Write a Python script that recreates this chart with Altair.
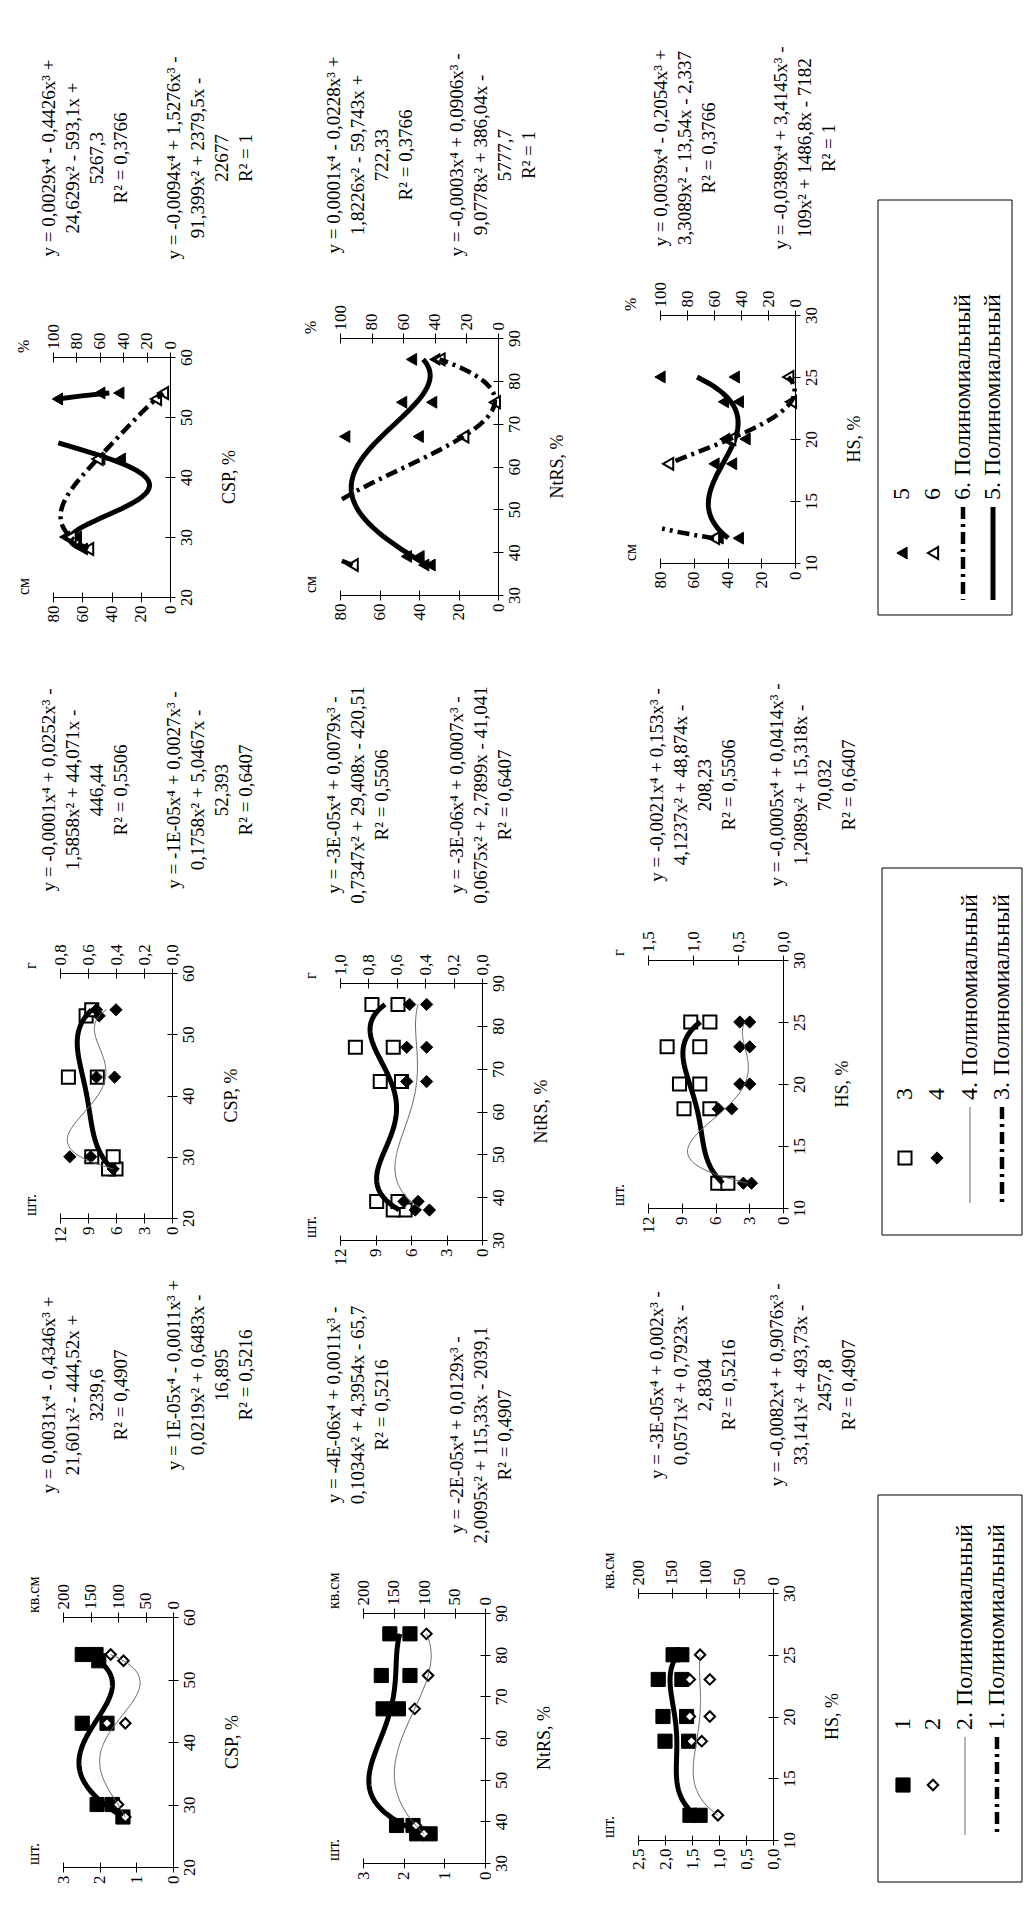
import altair as alt
import pandas as pd

W, H, M = 1016, 1894, 8
SERIF = "Liberation Serif"

# ---------------- data ----------------
# CSP row
csp_kv_x1 = [28, 30, 30, 43, 43, 53, 54, 54]
csp_kv_y1 = [91, 138, 110, 165, 120, 135, 165, 140]
csp_kv_x2 = [28, 30, 43, 43, 53, 54]
csp_kv_y2 = [1.3, 1.5, 1.3, 1.8, 1.35, 1.7]
csp_g_x3 = [28, 28, 30, 30, 43, 43, 53, 54]
csp_g_y3 = [6.0, 6.8, 6.3, 8.6, 11.1, 8.0, 9.2, 8.6]
csp_g_x4 = [28, 30, 30, 43, 43, 53, 54, 54]
csp_g_y4 = [0.42, 0.73, 0.58, 0.54, 0.41, 0.52, 0.54, 0.40]
csp_cm_x5 = [28, 30, 30, 43, 43, 53, 54, 54]
csp_cm_y5 = [60, 72, 64, 48, 34, 77, 48, 35]
csp_cm_x6 = [28, 30, 43, 53, 54]
csp_cm_y6 = [70, 85, 62, 12, 6]
# NtRS row
ntrs_kv_x1 = [37, 37, 39, 39, 67, 67, 75, 75, 85, 85]
ntrs_kv_y1 = [90, 112, 145, 118, 167, 142, 170, 123, 156, 123]
ntrs_kv_x2 = [37, 39, 67, 75, 85]
ntrs_kv_y2 = [1.5, 1.7, 1.73, 1.40, 1.44]
ntrs_g_x3 = [37, 37, 39, 39, 67, 67, 75, 75, 85, 85]
ntrs_g_y3 = [6.5, 7.5, 8.9, 7.1, 8.6, 6.8, 10.7, 7.5, 9.3, 7.1]
ntrs_g_x4 = [37, 37, 39, 39, 67, 67, 75, 75, 85, 85]
ntrs_g_y4 = [0.37, 0.47, 0.55, 0.45, 0.53, 0.39, 0.53, 0.39, 0.51, 0.39]
ntrs_cm_x5 = [37, 37, 39, 39, 67, 67, 75, 75, 85, 85]
ntrs_cm_y5 = [34.4, 37.6, 46.4, 40.0, 77.6, 40.4, 48.8, 33.6, 43.8, 32.0]
ntrs_cm_x6 = [37, 39, 67, 75, 85]
ntrs_cm_y6 = [92, 105, 22, 2, 37]
# HS row
hs_kv_x1 = [12, 12, 18, 18, 20, 20, 23, 23, 25, 25]
hs_kv_y1 = [123, 108, 160, 125, 163, 128, 170, 135, 148, 135]
hs_kv_x2 = [12, 18, 18, 20, 20, 23, 23, 25]
hs_kv_y2 = [1.02, 1.51, 1.32, 1.54, 1.17, 1.54, 1.17, 1.35]
hs_g_x3 = [12, 12, 18, 18, 20, 20, 23, 23, 25, 25]
hs_g_y3 = [5.8, 4.9, 8.8, 6.5, 9.2, 7.4, 10.3, 7.4, 8.2, 6.5]
hs_g_x4 = [12, 12, 18, 18, 20, 20, 23, 23, 25, 25]
hs_g_y4 = [0.44, 0.35, 0.72, 0.57, 0.48, 0.37, 0.48, 0.37, 0.48, 0.37]
hs_cm_x5 = [12, 12, 18, 18, 20, 20, 23, 23, 25, 25]
hs_cm_y5 = [45.6, 33.6, 48, 37.6, 41.6, 29.6, 42.4, 33.6, 80, 36]
hs_cm_x6 = [12, 18, 20, 23, 25]
hs_cm_y6 = [60, 94, 48, 3, 5]

# tick labels
csp_ticks = [20, 30, 40, 50, 60]
ntrs_ticks = [30, 40, 50, 60, 70, 80, 90]
hs_ticks = [10, 15, 20, 25, 30]
sht3_ticks = [0, 1, 2, 3]
sht25_ticks = [0, 0.5, 1, 1.5, 2, 2.5]
kv_ticks = [0, 50, 100, 150, 200]
sht12_ticks = [0, 3, 6, 9, 12]
g08_ticks = [0, 0.2, 0.4, 0.6, 0.8]
g1_ticks = [0, 0.2, 0.4, 0.6, 0.8, 1]
g15_ticks = [0, 0.5, 1, 1.5]
cm_ticks = [0, 20, 40, 60, 80]
pct_ticks = [0, 20, 40, 60, 80, 100]

eqs = {
    "A1": ["y = 0,0031x⁴ - 0,4346x³ +\n21,601x² - 444,52x +\n3239,6\nR² = 0,4907",
           "y = 1E-05x⁴ - 0,0011x³ +\n0,0219x² + 0,6483x -\n16,895\nR² = 0,5216"],
    "A2": ["y = -0,0001x⁴ + 0,0252x³ -\n1,5858x² + 44,071x -\n446,44\nR² = 0,5506",
           "y = -1E-05x⁴ + 0,0027x³ -\n0,1758x² + 5,0467x -\n52,393\nR² = 0,6407"],
    "A3": ["y = 0,0029x⁴ - 0,4426x³ +\n24,629x² - 593,1x +\n5267,3\nR² = 0,3766",
           "y = -0,0094x⁴ + 1,5276x³ -\n91,399x² + 2379,5x -\n22677\nR² = 1"],
    "B1": ["y = -4E-06x⁴ + 0,0011x³ -\n0,1034x² + 4,3954x - 65,7\nR² = 0,5216",
           "y = -2E-05x⁴ + 0,0129x³ -\n2,0095x² + 115,33x - 2039,1\nR² = 0,4907"],
    "B2": ["y = -3E-05x⁴ + 0,0079x³ -\n0,7347x² + 29,408x - 420,51\nR² = 0,5506",
           "y = -3E-06x⁴ + 0,0007x³ -\n0,0675x² + 2,7899x - 41,041\nR² = 0,6407"],
    "B3": ["y = 0,0001x⁴ - 0,0228x³ +\n1,8226x² - 59,743x +\n722,33\nR² = 0,3766",
           "y = -0,0003x⁴ + 0,0906x³ -\n9,0778x² + 386,04x -\n5777,7\nR² = 1"],
    "C1": ["y = -3E-05x⁴ + 0,002x³ -\n0,0571x² + 0,7923x -\n2,8304\nR² = 0,5216",
           "y = -0,0082x⁴ + 0,9076x³ -\n33,141x² + 493,73x -\n2457,8\nR² = 0,4907"],
    "C2": ["y = -0,0021x⁴ + 0,153x³ -\n4,1237x² + 48,874x -\n208,23\nR² = 0,5506",
           "y = -0,0005x⁴ + 0,0414x³ -\n1,2089x² + 15,318x -\n70,032\nR² = 0,6407"],
    "C3": ["y = 0,0039x⁴ - 0,2054x³ +\n3,3089x² - 13,54x - 2,337\nR² = 0,3766",
           "y = -0,0389x⁴ + 3,4145x³ -\n109x² + 1486,8x - 7182\nR² = 1"],
}

# ---------------- helpers ----------------
DUMMY = pd.DataFrame({"d": [0]})
layers = []


def P(v):
    return v - M


def text(s, x, y, size=16, align="center", baseline="top", angle=270, lh=22, color="black"):
    kw = dict(angle=angle, align=align, baseline=baseline, font=SERIF,
              fontSize=size, color=color)
    if "\n" in s:
        kw["lineBreak"] = "\n"
        kw["lineHeight"] = lh
    layers.append(alt.Chart(DUMMY).mark_text(**kw).encode(
        x=alt.value(P(x)), y=alt.value(P(y)), text=alt.value(s)))


MARKS = {
    "sq_f": dict(shape="square", fill="black", stroke="black", strokeWidth=1, size=200),
    "sq_o": dict(shape="square", fill="white", stroke="black", strokeWidth=2, size=170),
    "dia_o": dict(shape="diamond", fill="white", stroke="black", strokeWidth=2, size=110),
    "dia_f": dict(shape="diamond", fill="black", stroke="black", strokeWidth=1, size=150),
    "tri_f": dict(shape="triangle-left", fill="black", stroke="black", strokeWidth=1, size=140),
    "tri_o": dict(shape="triangle-left", fill="white", stroke="black", strokeWidth=2, size=140),
}
LINES = {
    "thick": dict(color="black", strokeWidth=5),
    "thin": dict(color="#666666", strokeWidth=1),
    "dash": dict(color="black", strokeWidth=4.5, strokeDash=[12, 5, 3, 5]),
}

AX = dict(labelFont=SERIF, labelFontSize=17, labelColor="black", domainColor="black",
          tickColor="black", domainWidth=1, tickWidth=1, tickSize=5, grid=False,
          labelFlush=False, labelOverlap=False, labelPadding=3, title=None,
          labelExpr="replace(datum.label, '.', ',')")
# inner half of the crossing ticks (no labels)
AXI = dict(domain=False, tickColor="black", tickWidth=1, tickSize=5, grid=False,
           labels=False, title=None)

EQ_SIZE, EQ_LH = 19, 24


def panel(key, box, xdom, xticks, xtitle, bdom, bticks, btitle, tdom, tticks, ttitle, series,
          eqx, eqy):
    left, right, top, bottom = box
    ys = alt.Scale(domain=list(xdom), range=[P(bottom), P(top)], nice=False, zero=False)
    scales = {
        "b": alt.Scale(domain=list(bdom), range=[P(right), P(left)], nice=False, zero=False),
        "t": alt.Scale(domain=list(tdom), range=[P(right), P(left)], nice=False, zero=False),
    }
    doms = {"b": bdom, "t": tdom}
    axes = {
        "b": alt.Axis(orient="bottom", offset=P(bottom) - H, values=bticks, labelAngle=270,
                      labelAlign="right", labelBaseline="middle", **AX),
        "t": alt.Axis(orient="top", offset=-P(top), values=tticks, labelAngle=270,
                      labelAlign="left", labelBaseline="middle", **AX),
    }
    inner = {
        "b": alt.Axis(orient="top", offset=-P(bottom), values=bticks, **AXI),
        "t": alt.Axis(orient="bottom", offset=P(top) - H, values=tticks, **AXI),
    }
    yaxis = alt.Axis(orient="right", offset=P(right) - W, values=xticks, labelAngle=270,
                     labelAlign="center", labelBaseline="top", **AX)
    yinner = alt.Axis(orient="left", offset=-P(right), values=xticks, **AXI)
    for s in series:
        ax = s["ax"]
        lo, hi = doms[ax]
        df = pd.DataFrame({"x": s["x"], "v": s["v"]})
        # invisible layer carrying the inward half of the crossing ticks
        layers.append(alt.Chart(df).mark_point(opacity=0).encode(
            x=alt.X("v:Q", scale=scales[ax], axis=inner[ax]),
            y=alt.Y("x:Q", scale=ys, axis=yinner if ax == "b" else None),
        ))
        pts = alt.Chart(df).transform_filter(
            f"datum.v >= {lo} && datum.v <= {hi}"
        ).mark_point(filled=True, opacity=1, **MARKS[s["kind"]]).encode(
            x=alt.X("v:Q", scale=scales[ax], axis=axes[ax]),
            y=alt.Y("x:Q", scale=ys, axis=yaxis if ax == "b" else None),
        )
        ln = alt.Chart(df).transform_regression(
            "x", "v", method="poly", order=4
        ).transform_calculate(
            w=f"datum.v >= {lo} && datum.v <= {hi} ? datum.v : null"
        ).mark_line(invalid="break-paths-filter-domains", **LINES[s["line"]]).encode(
            x=alt.X("w:Q", scale=scales[ax], axis=None),
            y=alt.Y("x:Q", scale=ys, axis=None),
            order=alt.Order("x:Q"),
        )
        layers.append(pts)
        layers.append(ln)
    text(btitle, left - 29, bottom - 2, size=16, align="left", baseline="middle")
    text(ttitle, left - 29, top - 4, size=16, align="left", baseline="middle")
    text(xtitle, right + 60, (top + bottom) / 2, size=18, align="center", baseline="middle")
    e1, e2 = eqs[key]
    text(e1, eqx[0], eqy[0], size=EQ_SIZE, lh=EQ_LH)
    text(e2, eqx[1], eqy[1], size=EQ_SIZE, lh=EQ_LH)


panel("A1", (63, 173, 1617, 1867), (20, 60), csp_ticks, "CSP, %", (0, 3), sht3_ticks, "шт.",
      (0, 200), kv_ticks, "кв.см",
      [dict(x=csp_kv_x1, v=csp_kv_y1, ax="t", kind="sq_f", line="thick"),
       dict(x=csp_kv_x2, v=csp_kv_y2, ax="b", kind="dia_o", line="thin")], (40, 165), (1395, 1375))
panel("A2", (60, 172, 973, 1218), (20, 60), csp_ticks, "CSP, %", (0, 12), sht12_ticks, "шт.",
      (0, 0.8), g08_ticks, "г",
      [dict(x=csp_g_x3, v=csp_g_y3, ax="b", kind="sq_o", line="thick"),
       dict(x=csp_g_x4, v=csp_g_y4, ax="t", kind="dia_f", line="thin")], (40, 165), (790, 790))
panel("A3", (53, 170, 357, 597), (20, 60), csp_ticks, "CSP, %", (0, 80), cm_ticks, "см",
      (0, 100), pct_ticks, "%",
      [dict(x=csp_cm_x5, v=csp_cm_y5, ax="b", kind="tri_f", line="thick"),
       dict(x=csp_cm_x6, v=csp_cm_y6, ax="t", kind="tri_o", line="dash")], (40, 165), (158, 158))

panel("B1", (363, 485, 1613, 1863), (30, 90), ntrs_ticks, "NtRS, %", (0, 3), sht3_ticks, "шт.",
      (0, 200), kv_ticks, "кв.см",
      [dict(x=ntrs_kv_x1, v=ntrs_kv_y1, ax="t", kind="sq_f", line="thick"),
       dict(x=ntrs_kv_x2, v=ntrs_kv_y2, ax="b", kind="dia_o", line="thin")], (325, 448), (1405, 1435))
panel("B2", (340, 482, 983, 1240), (30, 90), ntrs_ticks, "NtRS, %", (0, 12), sht12_ticks, "шт.",
      (0, 1), g1_ticks, "г",
      [dict(x=ntrs_g_x3, v=ntrs_g_y3, ax="b", kind="sq_o", line="thick"),
       dict(x=ntrs_g_x4, v=ntrs_g_y4, ax="t", kind="dia_f", line="thin")], (325, 448), (795, 795))
panel("B3", (340, 498, 338, 595), (30, 90), ntrs_ticks, "NtRS, %", (0, 80), cm_ticks, "см",
      (0, 100), pct_ticks, "%",
      [dict(x=ntrs_cm_x5, v=ntrs_cm_y5, ax="b", kind="tri_f", line="thick"),
       dict(x=ntrs_cm_x6, v=ntrs_cm_y6, ax="t", kind="tri_o", line="dash")], (325, 448), (155, 155))

panel("C1", (638, 773, 1593, 1840), (10, 30), hs_ticks, "HS, %", (0, 2.5), sht25_ticks, "шт.",
      (0, 200), kv_ticks, "кв.см",
      [dict(x=hs_kv_x1, v=hs_kv_y1, ax="t", kind="sq_f", line="thick"),
       dict(x=hs_kv_x2, v=hs_kv_y2, ax="b", kind="dia_o", line="thin")], (648, 768), (1385, 1385))
panel("C2", (648, 783, 960, 1208), (10, 30), hs_ticks, "HS, %", (0, 12), sht12_ticks, "шт.",
      (0, 1.5), g15_ticks, "г",
      [dict(x=hs_g_x3, v=hs_g_y3, ax="b", kind="sq_o", line="thick"),
       dict(x=hs_g_x4, v=hs_g_y4, ax="t", kind="dia_f", line="thin")], (648, 768), (785, 785))
panel("C3", (660, 795, 315, 563), (10, 30), hs_ticks, "HS, %", (0, 80), cm_ticks, "см",
      (0, 100), pct_ticks, "%",
      [dict(x=hs_cm_x5, v=hs_cm_y5, ax="b", kind="tri_f", line="thick"),
       dict(x=hs_cm_x6, v=hs_cm_y6, ax="t", kind="tri_o", line="dash")], (652, 772), (148, 148))


def box(x1, y1, x2, y2):
    layers.append(alt.Chart(DUMMY).mark_rect(fillOpacity=0, stroke="black", strokeWidth=1).encode(
        x=alt.value(P(x1)), x2=alt.value(P(x2)), y=alt.value(P(y1)), y2=alt.value(P(y2))))


def vrule(x, y1, y2, **kw):
    layers.append(alt.Chart(DUMMY).mark_rule(**kw).encode(
        x=alt.value(P(x)), y=alt.value(P(y1)), y2=alt.value(P(y2))))


def sym(kind, x, y):
    layers.append(alt.Chart(DUMMY).mark_point(filled=True, opacity=1, **MARKS[kind]).encode(
        x=alt.value(P(x)), y=alt.value(P(y))))


def legend(bx, sy, ly, seg, items):
    box(*bx)
    for (kind, xpos, label) in items:
        if kind in MARKS:
            sym(kind, xpos, sy)
        else:
            vrule(xpos, seg[0], seg[1], **LINES[kind])
        text(label, xpos, ly, size=24, align="left", baseline="middle")


legend((878, 1495, 1022, 1882), 1785, 1730, (1737, 1835),
       [("sq_f", 903, "1"), ("dia_o", 933, "2"), ("thin", 965, "2. Полиномиальный"),
        ("dash", 997, "1. Полиномиальный")])
legend((882, 868, 1022, 1235), 1158, 1100, (1107, 1203),
       [("sq_o", 905, "3"), ("dia_f", 937, "4"), ("thin", 970, "4. Полиномиальный"),
        ("dash", 1002, "3. Полиномиальный")])
legend((878, 200, 1012, 615), 553, 500, (507, 600),
       [("tri_f", 902, "5"), ("tri_o", 933, "6"), ("dash", 963, "6. Полиномиальный"),
        ("thick", 993, "5. Полиномиальный")])

chart = alt.layer(*layers).resolve_scale(x="independent", y="independent").properties(
    width=W, height=H, autosize="none", padding=0, background="white"
).configure_view(strokeWidth=0)

chart.save("out.html", embed_options={"renderer": "svg", "actions": False})
